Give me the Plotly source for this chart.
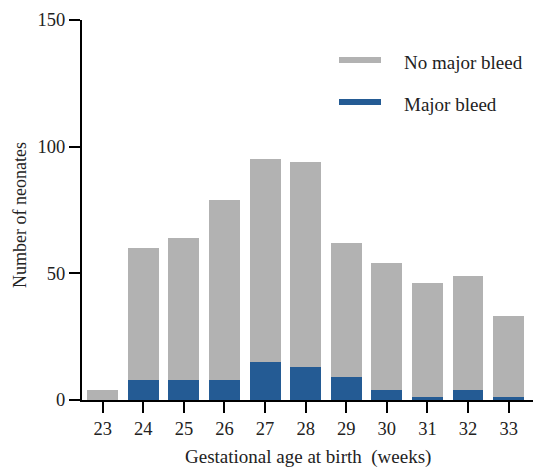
import plotly.graph_objects as go

weeks = [23, 24, 25, 26, 27, 28, 29, 30, 31, 32, 33]
total = [4, 60, 64, 79, 95, 94, 62, 54, 46, 49, 33]
major = [0, 8, 8, 8, 15, 13, 9, 4, 1, 4, 1]
no_major = [t - m for t, m in zip(total, major)]
y_ticks = [0, 50, 100, 150]

GRAY = "#b2b2b2"
BLUE = "#245b94"
FONT = "Liberation Serif"

fig = go.Figure()
fig.add_trace(go.Bar(x=weeks, y=major, name="Major bleed", marker_color=BLUE,
                     marker_line_width=0, width=0.76, showlegend=False))
fig.add_trace(go.Bar(x=weeks, y=no_major, name="No major bleed", marker_color=GRAY,
                     marker_line_width=0, width=0.76, showlegend=False))

fig.update_layout(
    barmode="stack",
    width=533, height=468,
    margin=dict(l=82, r=0, t=20, b=68, autoexpand=False),
    plot_bgcolor="white", paper_bgcolor="white",
    font=dict(family=FONT, size=18, color="#222"),
    xaxis=dict(range=[22.49, 33.6], tickmode="array", tickvals=weeks,
               ticktext=[str(w) for w in weeks],
               showline=True, linecolor="black", linewidth=2,
               ticks="outside", ticklen=11, tickwidth=2, tickcolor="black",
               showgrid=False, zeroline=False, tickfont=dict(size=18.5)),
    yaxis=dict(range=[0, 150], tickmode="array", tickvals=y_ticks,
               showline=True, linecolor="black", linewidth=2,
               ticks="outside", ticklen=11, tickwidth=2, tickcolor="black",
               showgrid=False, zeroline=False, tickfont=dict(size=18.5)),
)

# axis titles
fig.add_annotation(text="Gestational age at birth  (weeks)", xref="paper", yref="paper",
                   x=0.5, y=-57 / 380, yanchor="middle", showarrow=False,
                   font=dict(size=19))
fig.add_annotation(text="Number of neonates", xref="paper", yref="paper",
                   x=-62 / 451, y=(400 - 215) / 380, textangle=-90, showarrow=False,
                   xanchor="center", yanchor="middle", font=dict(size=18))

# legend (manual)
legend_items = [("No major bleed", GRAY, 60, 62), ("Major bleed", BLUE, 102, 104)]
for label, col, ys, yt in legend_items:
    fig.add_shape(type="rect", xref="paper", yref="paper",
                  x0=(339 - 82) / 451, x1=(381 - 82) / 451,
                  y0=(400 - ys - 3) / 380, y1=(400 - ys + 3) / 380,
                  fillcolor=col, line_width=0)
    fig.add_annotation(text=label, xref="paper", yref="paper",
                       x=(402 - 82) / 451, y=(400 - yt) / 380,
                       xanchor="left", yanchor="middle",
                       showarrow=False, font=dict(size=19))

fig.write_html("out.html", config={"displayModeBar": False},
               post_script="document.body.style.margin='0';document.body.style.overflow='hidden';")
